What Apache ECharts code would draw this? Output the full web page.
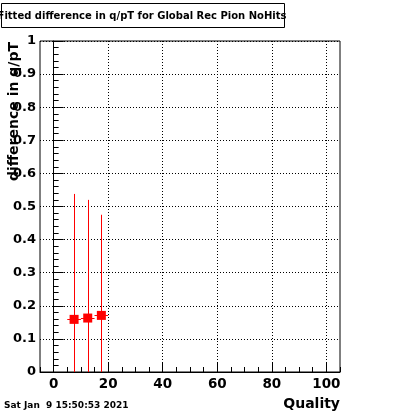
<!DOCTYPE html>
<html><head><meta charset="utf-8">
<script src="https://cdn.jsdelivr.net/npm/echarts@6/dist/echarts.min.js"></script>
<style>html,body{margin:0;padding:0;background:#fff}#c{width:400px;height:414px}</style>
</head><body><div id="c"></div>
<script>
const titleText = 'Fitted difference in q/pT for Global Rec Pion NoHits';
const xTitle = 'Quality';
const yTitle = 'difference in q/pT';
const dateText = 'Sat Jan  9 15:50:53 2021';
const quality = [7.5, 12.5, 17.5];
const qualityErr = [2.5, 2.5, 2.5];
const diff = [0.159, 0.163, 0.171];
const diffErr = [0.379, 0.357, 0.304];
const xMajorTicks = [0, 20, 40, 60, 80, 100];

const chart = echarts.init(document.getElementById('c'), null, {renderer: 'canvas'});
const font = 'DejaVu Sans';
const pts = quality.map((q, i) => [q, diff[i], qualityErr[i], diffErr[i]]);
const dot = [1, 2];

function errRender(params, api) {
  const cs = params.coordSys;
  const x = api.value(0), y = api.value(1), ex = api.value(2), ey = api.value(3);
  const clampY = v => Math.max(cs.y, Math.min(cs.y + cs.height, v));
  const top = api.coord([x, y + ey]);
  const bot = api.coord([x, y - ey]);
  const l = api.coord([x - ex, y]);
  const r = api.coord([x + ex, y]);
  const px = Math.round(top[0]) + 0.5;
  const py = Math.round(l[1]) + 0.5;
  return {
    type: 'group',
    children: [
      {type: 'line', shape: {x1: px, y1: clampY(top[1]), x2: px, y2: clampY(bot[1])}, style: {stroke: '#ff0000', lineWidth: 1}},
      {type: 'line', shape: {x1: l[0], y1: py, x2: r[0], y2: py}, style: {stroke: '#ff0000', lineWidth: 1}}
    ]
  };
}

const option = {
  animation: false,
  grid: {left: 40, top: 41, width: 300, height: 331, show: true, borderColor: '#000', borderWidth: 1, backgroundColor: 'transparent', containLabel: false},
  xAxis: [{
    type: 'value', min: -5, max: 105, interval: 5, position: 'bottom',
    axisLine: {show: true, lineStyle: {color: '#000', width: 1}},
    axisTick: {show: true, inside: true, length: 10, customValues: xMajorTicks, lineStyle: {color: '#000'}},
    axisLabel: {customValues: xMajorTicks, color: '#000', fontFamily: font, fontWeight: 'bold', fontSize: 13.5, margin: 5},
    splitLine: {show: false}
  }, {
    type: 'value', min: -5, max: 105, interval: 5, position: 'bottom', gridIndex: 0,
    axisLine: {show: false},
    axisTick: {show: true, inside: true, length: 5, lineStyle: {color: '#000'}},
    axisLabel: {show: false},
    splitLine: {show: false}
  }],
  yAxis: {
    type: 'value', min: 0, max: 1, interval: 0.1,
    axisLine: {show: true, lineStyle: {color: '#000', width: 1}},
    axisTick: {show: true, inside: true, length: 10, lineStyle: {color: '#000'}},
    minorTick: {show: true, splitNumber: 5, length: 5, lineStyle: {color: '#000'}},
    axisLabel: {color: '#000', fontFamily: font, fontWeight: 'bold', fontSize: 13, margin: 4,
      formatter: v => String(+v.toFixed(1))},
    splitLine: {show: true, lineStyle: {color: '#000', type: dot}}
  },
  series: [{
    type: 'custom', renderItem: errRender, data: pts, z: 2,
    encode: {x: 0, y: 1},
    markLine: {
      silent: true, symbol: 'none', animation: false, z: 1,
      label: {show: false},
      lineStyle: {color: '#000', type: dot, width: 1},
      emphasis: {disabled: true},
      data: xMajorTicks.map(v => ({xAxis: v}))
    }
  }, {
    type: 'scatter', data: pts, symbol: 'rect', symbolSize: 9, z: 3,
    itemStyle: {color: '#ff0000', opacity: 1},
    encode: {x: 0, y: 1}
  }],
  graphic: [
    {type: 'rect', shape: {x: 1.5, y: 3.5, width: 283, height: 24}, style: {fill: '#fff', stroke: '#000', lineWidth: 1}, z: 10},
    {type: 'text', x: 142, y: 16, style: {text: titleText, fontFamily: font, fontWeight: 'bold', fontSize: 10, fill: '#000', textAlign: 'center', textVerticalAlign: 'middle'}, z: 11},
    {type: 'text', x: 340, y: 404.5, style: {text: xTitle, fontFamily: font, fontWeight: 'bold', fontSize: 14, fill: '#000', textAlign: 'right', textVerticalAlign: 'middle'}, z: 11},
    {type: 'text', x: 14, y: 42, rotation: Math.PI / 2, style: {text: yTitle, fontFamily: font, fontWeight: 'bold', fontSize: 14, fill: '#000', textAlign: 'right', textVerticalAlign: 'middle'}, z: 11},
    {type: 'text', x: 4, y: 405.5, style: {text: dateText, fontFamily: font, fontWeight: 'bold', fontSize: 9, fill: '#000', textAlign: 'left', textVerticalAlign: 'middle'}, z: 11}
  ]
};
chart.setOption(option);
</script>
</body></html>
